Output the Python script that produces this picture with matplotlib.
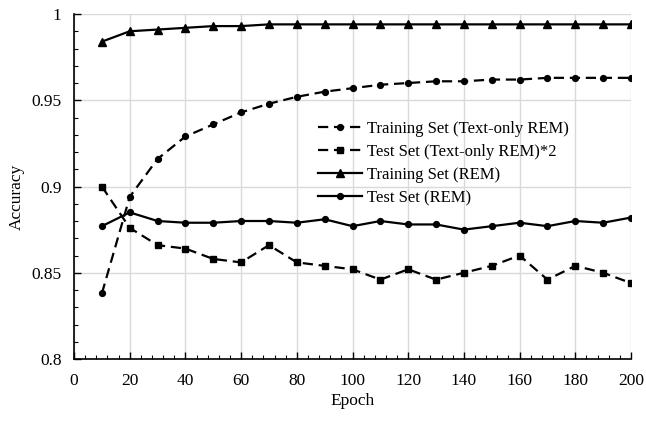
import matplotlib
matplotlib.use("Agg")
import matplotlib.pyplot as plt
from matplotlib.ticker import MultipleLocator, FuncFormatter

plt.rcParams["font.family"] = ["Liberation Serif", "DejaVu Serif"]

# data
epochs = [10, 20, 30, 40, 50, 60, 70, 80, 90, 100,
          110, 120, 130, 140, 150, 160, 170, 180, 190, 200]
train_text = [0.838, 0.894, 0.916, 0.929, 0.936, 0.943, 0.948, 0.952, 0.955, 0.957,
              0.959, 0.960, 0.961, 0.961, 0.962, 0.962, 0.963, 0.963, 0.963, 0.963]
test_text = [0.900, 0.876, 0.866, 0.864, 0.858, 0.856, 0.866, 0.856, 0.854, 0.852,
             0.846, 0.852, 0.846, 0.850, 0.854, 0.860, 0.846, 0.854, 0.850, 0.844]
train_rem = [0.984, 0.990, 0.991, 0.992, 0.993, 0.993, 0.994, 0.994, 0.994, 0.994,
             0.994, 0.994, 0.994, 0.994, 0.994, 0.994, 0.994, 0.994, 0.994, 0.994]
test_rem = [0.877, 0.885, 0.880, 0.879, 0.879, 0.880, 0.880, 0.879, 0.881, 0.877,
            0.880, 0.878, 0.878, 0.875, 0.877, 0.879, 0.877, 0.880, 0.879, 0.882]

labels = ["Training Set (Text-only REM)", "Test Set (Text-only REM)*2",
          "Training Set (REM)", "Test Set (REM)"]

fig = plt.figure(figsize=(6.46, 4.25), dpi=100)
ax = fig.add_axes([0.1146, 0.1553, 0.8622, 0.8117])

dash = (4.6, 2.6)
ax.plot(epochs, train_text, color="black", linewidth=1.6, dashes=dash,
        marker="o", markersize=4.2, label=labels[0])
ax.plot(epochs, test_text, color="black", linewidth=1.6, dashes=dash,
        marker="s", markersize=4.7, label=labels[1])
ax.plot(epochs, train_rem, color="black", linewidth=1.6,
        marker="^", markersize=5.5, label=labels[2])
ax.plot(epochs, test_rem, color="black", linewidth=1.6,
        marker="o", markersize=4.2, label=labels[3])

ax.set_xlim(0, 200)
ax.set_ylim(0.8, 1.0)
ax.xaxis.set_major_locator(MultipleLocator(20))
ax.xaxis.set_minor_locator(MultipleLocator(4))
ax.yaxis.set_major_locator(MultipleLocator(0.05))
ax.yaxis.set_minor_locator(MultipleLocator(0.01))
ax.yaxis.set_major_formatter(FuncFormatter(lambda v, p: f"{v:g}"))

ax.grid(True, which="major", color="#d9d9d9", linewidth=1.0)
ax.set_axisbelow(True)
for side in ["top", "right"]:
    ax.spines[side].set_visible(False)
for side in ["left", "bottom"]:
    ax.spines[side].set_color("black")
    ax.spines[side].set_linewidth(1.2)

ax.tick_params(which="both", direction="in", labelsize=12.5, color="black")
ax.tick_params(which="major", length=5, width=1)
ax.tick_params(which="minor", length=3, width=0.8)
ax.tick_params(axis="x", pad=10)
ax.tick_params(axis="y", pad=9)

ax.set_xlabel("Epoch", fontsize=12.5, labelpad=3)
ax.set_ylabel("Accuracy", fontsize=12.5, labelpad=5, y=0.47)

ax.legend(loc="upper left", bbox_to_anchor=(0.4386, 0.69), frameon=False,
          fontsize=12, handlelength=2.65, handletextpad=0.3,
          labelspacing=0.42, borderpad=0, borderaxespad=0)

fig.savefig("out.png", dpi=100)
